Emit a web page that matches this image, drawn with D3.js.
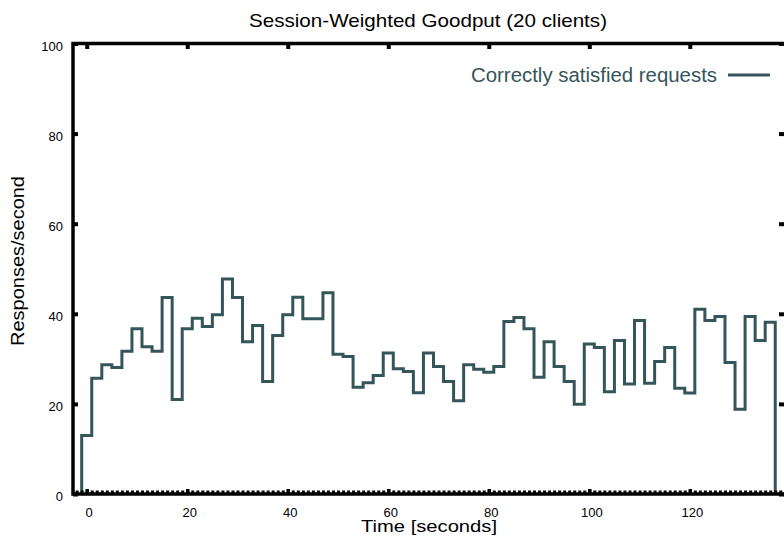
<!DOCTYPE html>
<html lang="en">
<head>
    <meta charset="UTF-8">
    <title>Session-Weighted Goodput</title>
    <script src="https://d3js.org/d3.v7.min.js"></script>
    <style>
        body { margin: 0; background: #fff; }
        text { font-family: "Liberation Sans", Arial, Helvetica, sans-serif; }
    </style>
</head>
<body>
    <div id="chart"></div>
    <script>
        // sample times (seconds), one histep per 2 s
        const times = [0, 2, 4, 6, 8, 10, 12, 14, 16, 18, 20, 22, 24, 26, 28, 30, 32, 34,
            36, 38, 40, 42, 44, 46, 48, 50, 52, 54, 56, 58, 60, 62, 64, 66, 68, 70,
            72, 74, 76, 78, 80, 82, 84, 86, 88, 90, 92, 94, 96, 98, 100, 102, 104, 106,
            108, 110, 112, 114, 116, 118, 120, 122, 124, 126, 128, 130, 132, 134, 136];
        // responses/second
        const goodput = [13.0, 25.7, 28.7, 28.1, 31.7, 36.7, 32.7, 31.7, 43.6, 21.0, 36.7, 39.0,
            37.2, 39.8, 47.7, 43.6, 33.8, 37.4, 25.0, 35.2, 39.8, 43.7, 38.9, 38.9, 44.7, 31.0,
            30.5, 23.7, 24.7, 26.3, 31.3, 27.8, 27.2, 22.5, 31.3, 28.3, 25.0, 20.7, 28.7, 27.7,
            27.0, 28.3, 38.3, 39.2, 36.7, 25.9, 33.8, 28.3, 25.0, 19.9, 33.3, 32.5, 22.7, 34.1,
            24.4, 38.5, 24.6, 29.4, 32.5, 23.5, 22.4, 41.0, 38.5, 39.4, 29.2, 18.8, 39.4, 34.1, 38.1];
        const xTicks = [0, 20, 40, 60, 80, 100, 120];
        const xMinor = d3.range(-2, 140, 1);
        const yTicks = [0, 20, 40, 60, 80, 100];
        const halfStep = 1;

        const W = 784, H = 539;
        const pLeft = 73, pRight = 787, pTop = 43.5, pBottom = 494;
        const lineColor = "#34555a";

        const svg = d3.select("#chart").append("svg")
            .attr("width", W)
            .attr("height", H);

        const x = d3.scaleLinear().domain([-2.73, 139.34]).range([pLeft, pRight]);
        const y = d3.scaleLinear().domain([0, 100]).range([pBottom, pTop]);

        // histeps: each sample covers [t-1, t+1]
        const pts = [{ t: times[0] - halfStep, v: 0 }];
        times.forEach((t, i) => pts.push({ t: t - halfStep, v: goodput[i] }));
        pts.push({ t: times[times.length - 1] + halfStep, v: goodput[goodput.length - 1] });
        pts.push({ t: times[times.length - 1] + halfStep, v: 0 });

        const line = d3.line()
            .x(d => x(d.t))
            .y(d => y(d.v))
            .curve(d3.curveStepAfter);

        svg.append("path")
            .datum(pts)
            .attr("d", line)
            .attr("fill", "none")
            .attr("stroke", lineColor)
            .attr("stroke-width", 3)
            .attr("stroke-linejoin", "miter");

        // ticks
        const tickStyle = (g, w) => {
            g.select(".domain").remove();
            g.selectAll("line").attr("stroke", "#000").attr("stroke-width", w);
            g.selectAll("text").remove();
        };

        svg.append("g")
            .attr("transform", `translate(0,${pBottom})`)
            .call(d3.axisBottom(x).tickValues(xMinor).tickSize(-3.5))
            .call(g => tickStyle(g, 3));

        svg.append("g")
            .attr("transform", `translate(0,${pBottom})`)
            .call(d3.axisBottom(x).tickValues(xTicks).tickSize(-5))
            .call(g => tickStyle(g, 3.5));

        svg.append("g")
            .attr("transform", `translate(0,${pTop})`)
            .call(d3.axisTop(x).tickValues(xTicks).tickSize(-5.5))
            .call(g => tickStyle(g, 4));

        svg.append("g")
            .attr("transform", `translate(${pLeft},0)`)
            .call(d3.axisLeft(y).tickValues(yTicks).tickSize(-5))
            .call(g => tickStyle(g, 4));

        svg.append("g")
            .attr("transform", `translate(${pRight},0)`)
            .call(d3.axisRight(y).tickValues(yTicks).tickSize(-8))
            .call(g => tickStyle(g, 4));

        // frame
        svg.append("rect")
            .attr("x", pLeft)
            .attr("y", pTop)
            .attr("width", pRight - pLeft)
            .attr("height", pBottom - pTop)
            .attr("fill", "none")
            .attr("stroke", "#000")
            .attr("stroke-width", 3.5);

        // tick labels
        svg.selectAll(".ylab")
            .data(yTicks)
            .enter()
            .append("text")
            .attr("x", pLeft - 10)
            .attr("y", d => y(d) + 7)
            .attr("text-anchor", "end")
            .attr("font-size", 13)
            .text(d => d);

        svg.selectAll(".xlab")
            .data(xTicks)
            .enter()
            .append("text")
            .attr("x", d => x(d) + 2.5)
            .attr("y", 517)
            .attr("text-anchor", "middle")
            .attr("font-size", 13)
            .text(d => d);

        // titles
        svg.append("text")
            .attr("x", 428)
            .attr("y", 27)
            .attr("text-anchor", "middle")
            .attr("font-size", 19)
            .attr("textLength", 358)
            .attr("lengthAdjust", "spacingAndGlyphs")
            .text("Session-Weighted Goodput (20 clients)");

        svg.append("text")
            .attr("x", 429)
            .attr("y", 532)
            .attr("text-anchor", "middle")
            .attr("font-size", 17)
            .attr("textLength", 136)
            .attr("lengthAdjust", "spacingAndGlyphs")
            .text("Time [seconds]");

        svg.append("text")
            .attr("transform", "translate(24,261) rotate(-90)")
            .attr("text-anchor", "middle")
            .attr("font-size", 18)
            .attr("textLength", 170)
            .attr("lengthAdjust", "spacingAndGlyphs")
            .text("Responses/second");

        // legend
        svg.append("text")
            .attr("x", 717)
            .attr("y", 81.5)
            .attr("text-anchor", "end")
            .attr("font-size", 19.5)
            .attr("textLength", 246)
            .attr("lengthAdjust", "spacingAndGlyphs")
            .attr("fill", lineColor)
            .text("Correctly satisfied requests");

        svg.append("line")
            .attr("x1", 728)
            .attr("x2", 770)
            .attr("y1", 75)
            .attr("y2", 75)
            .attr("stroke", lineColor)
            .attr("stroke-width", 3);
    </script>
</body>
</html>
